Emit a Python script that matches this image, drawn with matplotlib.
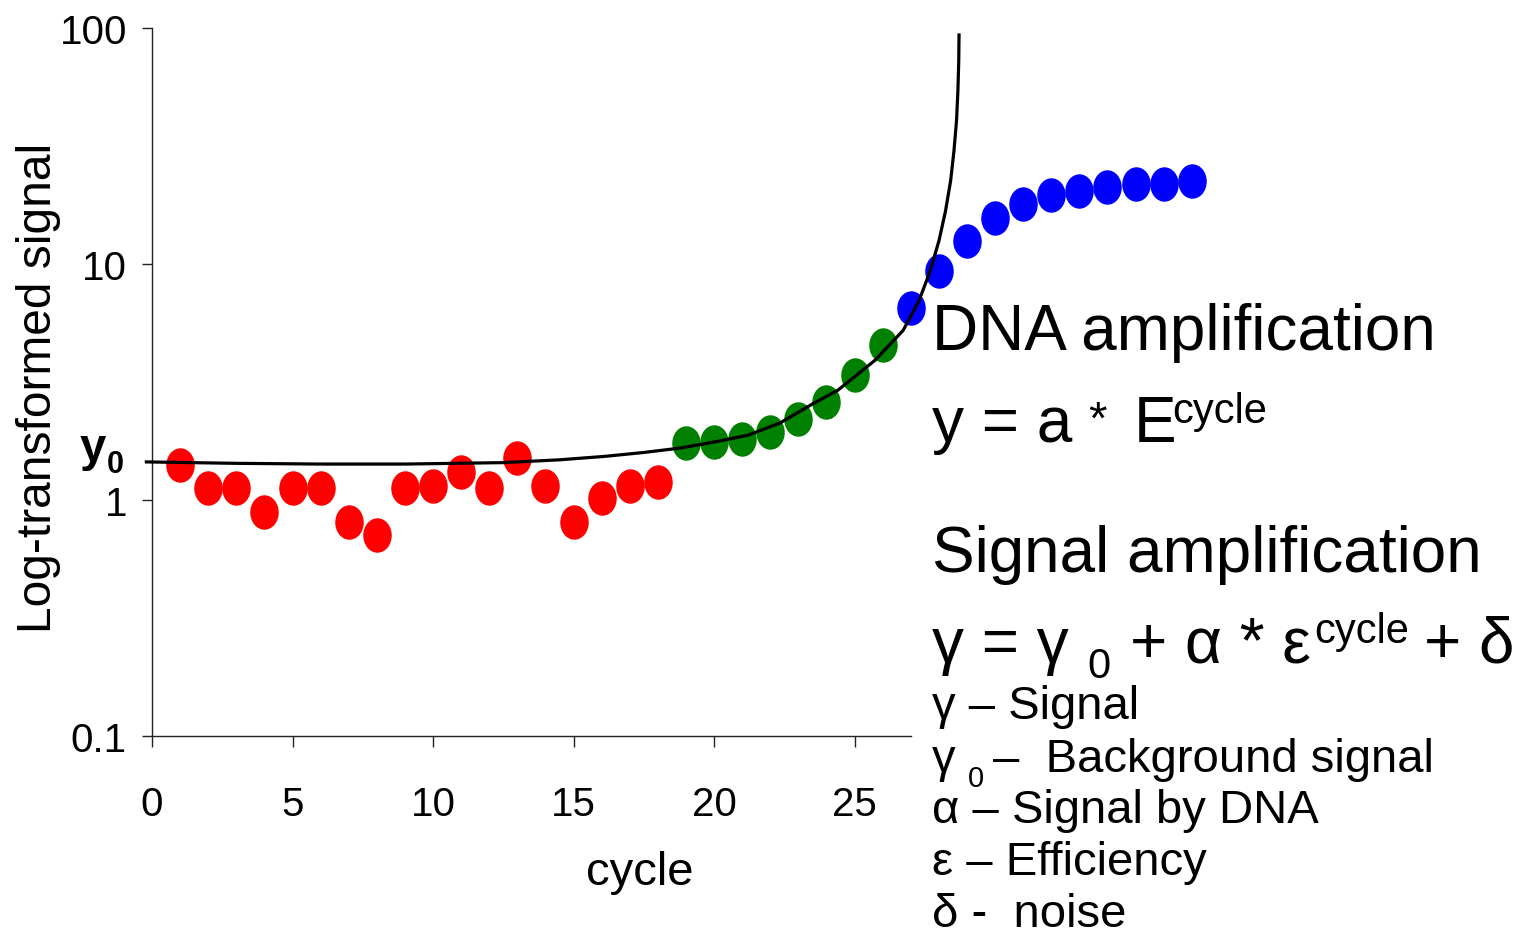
import matplotlib
matplotlib.use("Agg")
import matplotlib.pyplot as plt
from matplotlib.path import Path
from matplotlib.transforms import Affine2D

# data
red_cycles = list(range(1, 19))
red_signal = [1.41, 1.12, 1.12, 0.89, 1.12, 1.12, 0.81, 0.71, 1.12, 1.15,
              1.32, 1.12, 1.50, 1.15, 0.81, 1.02, 1.15, 1.19]
green_cycles = list(range(19, 27))
green_signal = [1.74, 1.76, 1.82, 1.94, 2.21, 2.60, 3.38, 4.52]
blue_cycles = list(range(27, 38))
blue_signal = [6.53, 9.32, 12.5, 15.7, 17.9, 19.7, 20.3, 21.3, 21.9, 21.9, 22.4]

# fitted curve
curve_x = [-0.2, 3, 6, 9, 12.5, 14.5, 16.1, 17.5, 18.8, 20.0, 21.2, 22.35, 23.5,
           24.41, 25.73, 26.73, 27.30, 27.70, 28.01, 28.24, 28.42, 28.54, 28.63,
           28.68, 28.71, 28.72]
curve_y = [1.45, 1.43, 1.42, 1.42, 1.44, 1.48, 1.53, 1.59, 1.66, 1.76, 1.88, 2.12, 2.55,
           2.92, 3.91, 5.23, 7.01, 9.39, 12.6, 16.8, 22.5, 30.2, 40.4,
           54.2, 72.5, 93.4]

xticks = [0, 5, 10, 15, 20, 25]
yticks = [0.1, 1, 10, 100]
ytick_labels = ["0.1", "1", "10", "100"]

FONT = "Liberation Sans"
NARROW = ["Liberation Sans Narrow", "Liberation Sans"]
W, H = 1518, 937

def px(x, y):
    return x / W, 1 - y / H

fig = plt.figure(figsize=(W / 100, H / 100), dpi=100)
ax = fig.add_axes([152 / W, 1 - 737 / H, (1276 - 152) / W, (737 - 29) / H])

# elliptic marker (taller than wide)
ell = Path.unit_circle().transformed(Affine2D().scale(0.82, 1.0))
ms = 23.8
ax.plot(red_cycles, red_signal, ls="none", marker=ell, ms=ms, color="#ff0000", zorder=2)
ax.plot(green_cycles, green_signal, ls="none", marker=ell, ms=ms, color="#008000", zorder=2)
ax.plot(blue_cycles, blue_signal, ls="none", marker=ell, ms=ms, color="#0000ff", zorder=2)
ax.plot(curve_x, curve_y, color="black", lw=2.3, zorder=3, clip_on=False,
        solid_joinstyle="round")

ax.set_yscale("log")
ax.set_xlim(0, 40)
ax.set_ylim(0.1, 100)
ax.set_xticks(xticks)
ax.set_xticklabels([str(t) for t in xticks])
ax.set_yticks(yticks)
ax.set_yticklabels(ytick_labels)
ax.yaxis.set_minor_locator(matplotlib.ticker.NullLocator())

for s in ["top", "right"]:
    ax.spines[s].set_visible(False)
for s in ["left", "bottom"]:
    ax.spines[s].set_linewidth(1.0)
    ax.spines[s].set_color("#222222")
ax.spines["bottom"].set_bounds(0, 27)

ax.tick_params(axis="x", direction="out", length=8, width=1.0, pad=27, color="#222222")
ax.tick_params(axis="y", direction="out", length=7, width=1.0, pad=11, color="#222222")
for lab in ax.get_xticklabels() + ax.get_yticklabels():
    lab.set_family(NARROW)
    lab.set_fontsize(29)

ax.set_xlabel("cycle", family=FONT, fontsize=34)
ax.xaxis.set_label_coords(0.434, -0.161)
ax.set_ylabel("Log-transformed signal", family=FONT, fontsize=34.5)
ax.yaxis.set_label_coords(-0.081, 0.493)

# y0 marker label
fig.text(*px(106, 461), "y", family=FONT, fontsize=34, fontweight="bold", ha="right", va="baseline")
fig.text(*px(107, 473), "0", family=FONT, fontsize=22, fontweight="bold", ha="left", va="baseline")

# equations block
fig.text(*px(932, 350), "DNA amplification", family=FONT, fontsize=46, va="baseline")
fig.text(*px(932, 442), "y = a", family=FONT, fontsize=46, va="baseline")
fig.text(*px(1088, 434), "*", family=FONT, fontsize=34, va="baseline")
fig.text(*px(1134, 442), "E", family=FONT, fontsize=46, va="baseline")
fig.text(*px(1172, 423), "cycle", family=FONT, fontsize=30, va="baseline")

fig.text(*px(932, 572), "Signal amplification", family=FONT, fontsize=46, va="baseline")
fig.text(*px(932, 663), "\u03b3 = \u03b3", family=FONT, fontsize=46, va="baseline")
fig.text(*px(1087, 678), "0", family=FONT, fontsize=30, va="baseline")
fig.text(*px(1130, 663), "+ \u03b1 * \u03b5", family=FONT, fontsize=46, va="baseline")
fig.text(*px(1314, 643), "cycle", family=FONT, fontsize=30, va="baseline")
fig.text(*px(1424, 663), "+ \u03b4", family=FONT, fontsize=46, va="baseline")

# legend of symbols
fig.text(*px(932, 719), "\u03b3 \u2013 Signal", family=FONT, fontsize=34, va="baseline")
fig.text(*px(932, 772), "\u03b3", family=FONT, fontsize=34, va="baseline")
fig.text(*px(968, 787), "0", family=FONT, fontsize=21, va="baseline")
fig.text(*px(993, 772), "\u2013  Background signal", family=FONT, fontsize=34, va="baseline")
fig.text(*px(932, 823), "\u03b1 \u2013 Signal by DNA", family=FONT, fontsize=34, va="baseline")
fig.text(*px(932, 875), "\u03b5 \u2013 Efficiency", family=FONT, fontsize=34, va="baseline")
fig.text(*px(932, 927), "\u03b4 -  noise", family=FONT, fontsize=34, va="baseline")

fig.savefig("out.png", dpi=100)
